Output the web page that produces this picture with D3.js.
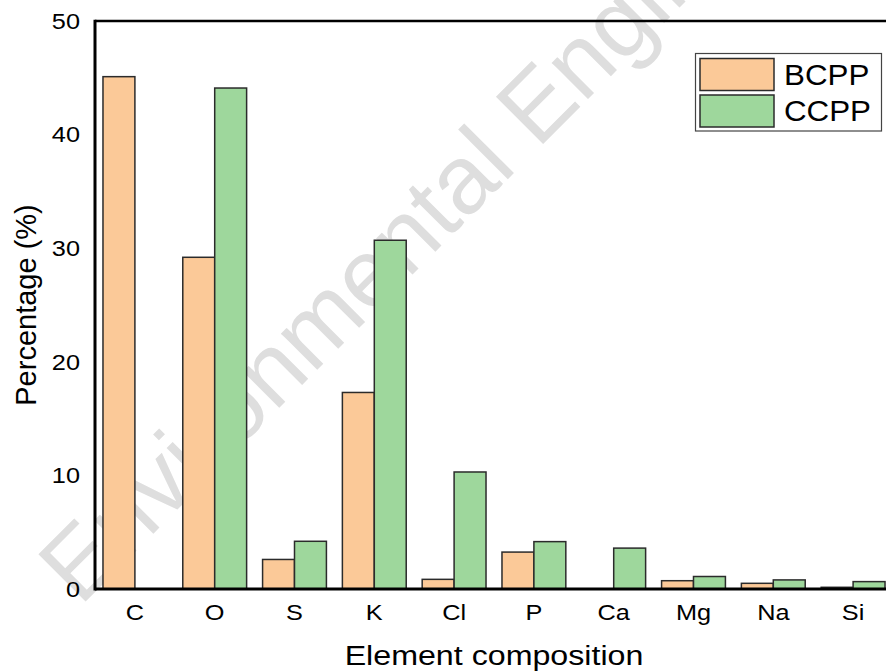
<!DOCTYPE html>
<html>
<head>
<meta charset="utf-8">
<script src="https://cdn.jsdelivr.net/npm/d3@7"></script>
<style>
  html, body { margin: 0; padding: 0; background: #fff; }
  svg { display: block; font-family: "Liberation Sans", Arial, Helvetica, sans-serif; }
</style>
</head>
<body>
<svg id="chart" width="886" height="672"></svg>
<script>
const categories = ["C", "O", "S", "K", "Cl", "P", "Ca", "Mg", "Na", "Si"];
const seriesNames = ["BCPP", "CCPP"];
const bcppValues = [45.1, 29.2, 2.6, 17.3, 0.85, 3.25, 0, 0.73, 0.5, 0.15];
const ccppValues = [0, 44.1, 4.2, 30.7, 10.3, 4.17, 3.6, 1.1, 0.8, 0.65];
const yTicks = [0, 10, 20, 30, 40, 50];
const colors = ["#FBC998", "#9ED79C"];
const xTitle = "Element composition";
const yTitle = "Percentage (%)";
const watermark = "Environmental Engineering";

const W = 886, H = 672;
const mLeft = 95, mTop = 21, mBottom = 589, mRight = 893;
const sx = 1.15; // horizontal text stretch seen in reference

const svg = d3.select("#chart");

const x0 = d3.scaleBand().domain(categories).range([mLeft, mRight]).paddingInner(0.2).paddingOuter(0.1);
const x1 = d3.scaleBand().domain(seriesNames).range([0, x0.bandwidth()]);
const y = d3.scaleLinear().domain([0, 50]).range([mBottom, mTop]);
const color = d3.scaleOrdinal().domain(seriesNames).range(colors);

// watermark (behind bars)
svg.append("text")
  .attr("transform", "translate(80,607) rotate(-45)")
  .attr("font-size", 97)
  .attr("fill", "#dedede")
  .text(watermark);

// bars
const rows = categories.map((c, i) => ({ cat: c, vals: [bcppValues[i], ccppValues[i]] }));
const g = svg.append("g").selectAll("g").data(rows).join("g")
  .attr("transform", d => `translate(${x0(d.cat)},0)`);
g.selectAll("rect")
  .data(d => d.vals.map((v, k) => ({ key: seriesNames[k], v })).filter(e => e.v > 0))
  .join("rect")
  .attr("x", e => x1(e.key))
  .attr("y", e => y(e.v))
  .attr("width", x1.bandwidth())
  .attr("height", e => y(0) - y(e.v))
  .attr("fill", e => color(e.key))
  .attr("stroke", "#2b2b2b")
  .attr("stroke-width", 1.5);

// axes frame
svg.append("line").attr("x1", mLeft).attr("x2", W).attr("y1", mTop).attr("y2", mTop)
  .attr("stroke", "#000").attr("stroke-width", 2.5);
svg.append("line").attr("x1", mLeft).attr("x2", W).attr("y1", mBottom).attr("y2", mBottom)
  .attr("stroke", "#000").attr("stroke-width", 3);
svg.append("line").attr("x1", mLeft).attr("x2", mLeft).attr("y1", mTop - 1.25).attr("y2", mBottom + 1.5)
  .attr("stroke", "#000").attr("stroke-width", 3);

// y tick labels
svg.append("g").selectAll("text").data(yTicks).join("text")
  .attr("transform", d => `translate(80,${y(d)}) scale(${sx},1)`)
  .attr("dy", "0.35em")
  .attr("text-anchor", "end")
  .attr("font-size", 22)
  .attr("fill", "#000")
  .text(d => d);

// x tick labels
svg.append("g").selectAll("text").data(categories).join("text")
  .attr("transform", d => `translate(${x0(d) + x0.bandwidth() / 2},620) scale(${sx},1)`)
  .attr("text-anchor", "middle")
  .attr("font-size", 22)
  .attr("fill", "#000")
  .text(d => d);

// axis titles
svg.append("text")
  .attr("transform", `translate(${(mLeft + mRight) / 2},665) scale(${sx},1)`)
  .attr("text-anchor", "middle")
  .attr("font-size", 28)
  .attr("fill", "#000")
  .text(xTitle);

svg.append("text")
  .attr("transform", `translate(36,${(203 + 407) / 2}) rotate(-90)`)
  .attr("text-anchor", "middle")
  .attr("font-size", 29)
  .attr("fill", "#000")
  .text(yTitle);

// legend
const lg = svg.append("g");
lg.append("rect").attr("x", 695.5).attr("y", 53.5).attr("width", 186).attr("height", 77.5)
  .attr("fill", "#fff").attr("stroke", "#444").attr("stroke-width", 1.2);
seriesNames.forEach((s, i) => {
  lg.append("rect").attr("x", 700).attr("y", 58.5 + i * 36.5).attr("width", 74).attr("height", 32)
    .attr("fill", color(s)).attr("stroke", "#2b2b2b").attr("stroke-width", 1.5);
  lg.append("text")
    .attr("transform", `translate(784,${85 + i * 36}) scale(1.08,1)`)
    .attr("font-size", 29)
    .attr("fill", "#000")
    .text(s);
});
</script>
</body>
</html>
